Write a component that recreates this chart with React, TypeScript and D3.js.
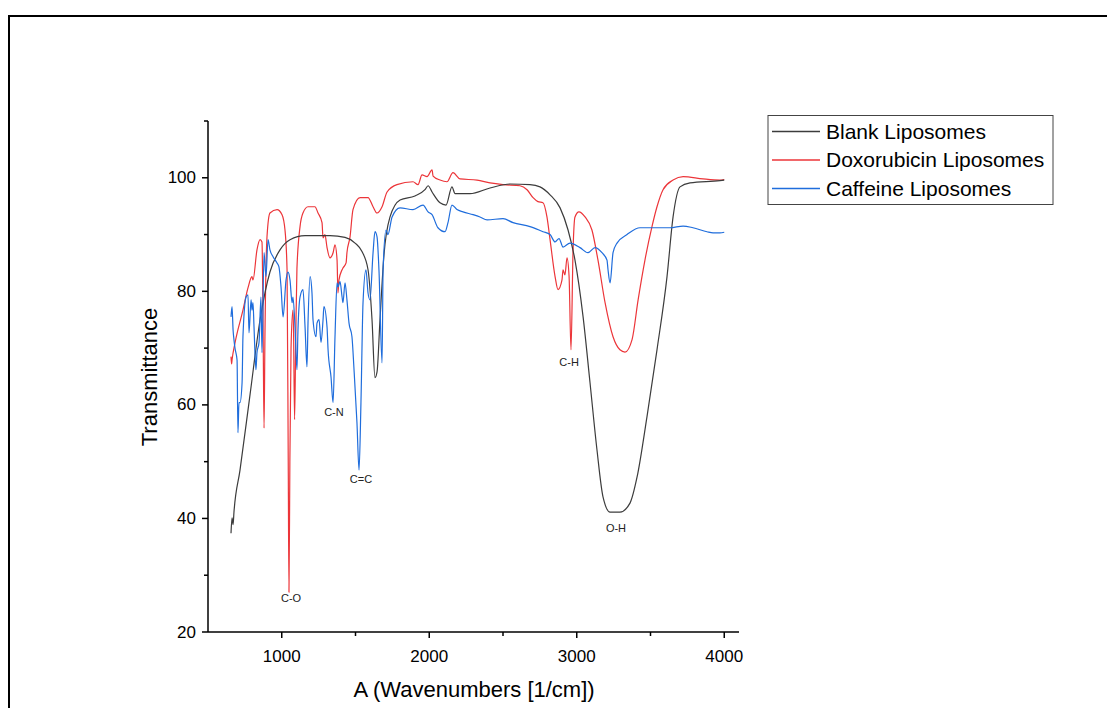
import React from "react";
import * as d3 from "d3";

// ---- data (wavenumber [1/cm], transmittance) ----
const blankWave = [656,663,670,676,717,785,853,920,988,1056,1158,1327,1429,1497,1544,1585,1612,1632,1646,1666,1693,1734,1802,1903,1971,1992,2019,2073,2114,2154,2175,2276,2412,2548,2683,2751,2819,2887,2941,2988,3043,3090,3137,3178,3226,3293,3361,3409,3476,3544,3612,3653,3700,3768,3971,4000];
const blankT = [37.4,40.1,38.9,41.1,48.5,61.8,75.0,83.4,87.3,89.1,89.8,89.8,89.5,88.5,87.0,83.8,75.0,64.8,65.8,75.0,86.4,93.1,96.1,96.8,97.9,98.6,97.5,95.6,95.2,98.4,97.2,97.2,98.2,98.9,98.8,98.4,97.0,94.7,90.8,85.5,75.5,63.9,52.1,43.8,41.1,41.1,42.7,47.3,57.9,69.7,82.6,93.1,98.4,99.1,99.5,99.6];

const doxWave = [656,660,663,683,737,771,798,805,832,853,866,874,880,886,900,920,968,1002,1022,1036,1044,1049,1055,1063,1076,1080,1087,1095,1103,1124,1144,1178,1225,1246,1273,1280,1293,1307,1327,1348,1361,1375,1381,1388,1409,1415,1436,1442,1463,1483,1531,1585,1619,1646,1680,1714,1781,1890,1924,1951,1985,2019,2026,2073,2120,2161,2209,2324,2412,2500,2615,2663,2704,2737,2771,2798,2819,2853,2873,2900,2907,2920,2934,2948,2961,2975,2988,3015,3056,3103,3144,3192,3246,3293,3327,3375,3416,3463,3510,3544,3585,3653,3721,3856,3971,4000];
const doxT = [68.5,67.2,67.9,70.9,76.7,80.6,82.6,82.0,87.3,89.1,88.7,72.0,55.9,72.0,89.6,93.8,94.4,93.5,90.8,83.8,50.0,27.0,50.0,70.0,76.7,73.0,57.4,72.0,84.0,91.4,93.8,94.9,94.9,93.8,92.1,89.4,90.0,87.7,85.9,86.8,88.2,85.5,79.7,82.0,83.8,84.1,85.0,86.8,89.6,94.4,96.5,96.5,94.9,93.8,94.9,97.5,98.8,99.3,98.8,100.5,100.2,101.4,100.3,99.6,99.3,100.9,99.8,99.6,99.1,98.8,98.6,97.9,96.5,95.8,95.6,93.1,89.1,82.6,80.3,82.0,83.8,82.9,85.9,82.6,69.7,87.3,93.1,94.0,93.1,90.8,85.5,78.0,72.0,69.7,69.3,71.5,78.5,85.6,91.4,94.9,97.9,99.6,100.2,99.8,99.6,99.7];

const cafWave = [656,663,670,676,683,697,703,710,717,731,737,758,771,778,792,798,805,812,825,832,846,859,866,880,893,907,920,941,968,981,995,1009,1029,1042,1056,1070,1076,1090,1103,1110,1124,1144,1158,1171,1178,1192,1205,1212,1232,1239,1253,1266,1280,1286,1307,1314,1334,1348,1361,1375,1381,1395,1409,1415,1429,1442,1456,1476,1490,1510,1524,1537,1551,1571,1585,1598,1619,1632,1646,1659,1680,1687,1707,1720,1748,1802,1890,1958,1992,2019,2059,2107,2127,2154,2188,2229,2297,2344,2392,2500,2568,2683,2771,2819,2853,2880,2907,2954,3022,3076,3124,3171,3205,3212,3226,3246,3273,3341,3429,3517,3632,3721,3788,3883,3924,3971,4000];
const cafT = [75.5,77.3,73.2,71.5,70.0,67.9,55.1,60.4,60.4,63.9,72.0,79.0,79.4,72.7,78.5,76.7,78.0,73.7,66.2,69.2,71.0,79.0,69.2,86.8,82.6,89.1,87.3,86.1,85.0,84.3,80.8,75.5,82.0,83.4,82.0,78.0,79.0,73.7,66.2,73.2,79.0,80.3,73.7,66.7,74.4,82.6,79.7,75.0,72.0,74.4,75.0,71.0,75.0,77.3,73.7,69.7,64.9,60.4,72.0,81.5,80.8,81.7,79.0,78.0,81.5,78.5,74.4,72.0,66.2,56.8,48.5,60.4,78.0,83.8,79.7,78.5,86.8,90.5,89.6,83.8,67.4,83.8,90.8,90.0,93.1,94.7,94.4,95.2,94.0,93.5,91.2,90.5,92.1,95.2,94.4,94.0,93.5,93.1,92.6,92.8,92.1,91.4,90.5,90.0,88.7,89.3,87.8,88.5,87.7,86.8,87.7,86.8,85.5,83.8,81.5,86.8,88.5,90.0,91.2,91.2,91.2,91.5,91.2,90.5,90.3,90.3,90.4];

const seriesNames = ["Blank Liposomes", "Doxorubicin Liposomes", "Caffeine Liposomes"];
const seriesColors = ["#3c3c3c", "#ec3539", "#1f6ddc"];

const xMajorTicks = [1000, 2000, 3000, 4000];
const xMinorTicks = [1500, 2500, 3500];
const yMajorTicks = [20, 40, 60, 80, 100];
const yMinorTicks = [30, 50, 70, 90, 110];

const annLabels = ["C-O", "C-N", "C=C", "C-H", "O-H"];
const annWave = [1063, 1354, 1537, 2948, 3266];
const annT = [25.8, 58.6, 46.8, 67.4, 38.1];

const FONT = "'Liberation Sans', Arial, Helvetica, sans-serif";

export default function App() {
  const x = d3.scaleLinear().domain([500, 4100]).range([208, 739]);
  const y = d3.scaleLinear().domain([20, 110]).range([632, 121]);

  const series = [
    blankWave.map((w, i) => [w, blankT[i]] as [number, number]),
    doxWave.map((w, i) => [w, doxT[i]] as [number, number]),
    cafWave.map((w, i) => [w, cafT[i]] as [number, number]),
  ];
  const line = d3
    .line<[number, number]>()
    .x((d) => x(d[0]))
    .y((d) => y(d[1]))
    .curve(d3.curveMonotoneX);

  const [x0, x1] = x.range();
  const [yb, yt] = y.range();

  return (
    <svg
      width={1107}
      height={708}
      style={{ position: "absolute", left: 0, top: 0, background: "#fff" }}
      fontFamily={FONT}
    >
      <rect x={0} y={0} width={1107} height={708} fill="#fff" />
      {/* outer frame */}
      <rect x={9} y={16} width={1120} height={720} fill="none" stroke="#000" strokeWidth={2} />

      {/* series */}
      {[1, 0, 2].map((k) => (
        <path
          key={k}
          d={line(series[k]) || ""}
          fill="none"
          stroke={seriesColors[k]}
          strokeWidth={1.2}
          strokeLinejoin="round"
        />
      ))}

      {/* annotations */}
      {annLabels.map((t, i) => (
        <text
          key={t}
          x={x(annWave[i])}
          y={y(annT[i])}
          fontSize={11}
          textAnchor="middle"
          dominantBaseline="middle"
          fill="#222"
        >
          {t}
        </text>
      ))}

      {/* axes */}
      <line x1={x0} x2={x1} y1={yb} y2={yb} stroke="#000" strokeWidth={1.5} />
      <line x1={x0} x2={x0} y1={yb} y2={yt} stroke="#000" strokeWidth={1.5} />
      {xMajorTicks.map((t) => (
        <g key={"xm" + t}>
          <line x1={x(t)} x2={x(t)} y1={yb} y2={yb + 6} stroke="#000" strokeWidth={1.5} />
          <text x={x(t)} y={yb + 30} fontSize={17} textAnchor="middle" fill="#000">
            {t}
          </text>
        </g>
      ))}
      {xMinorTicks.map((t) => (
        <line key={"xn" + t} x1={x(t)} x2={x(t)} y1={yb} y2={yb + 4} stroke="#000" strokeWidth={1.5} />
      ))}
      {yMajorTicks.map((t) => (
        <g key={"ym" + t}>
          <line x1={x0 - 6} x2={x0} y1={y(t)} y2={y(t)} stroke="#000" strokeWidth={1.5} />
          <text x={x0 - 12} y={y(t)} fontSize={17} textAnchor="end" dominantBaseline="central" fill="#000">
            {t}
          </text>
        </g>
      ))}
      {yMinorTicks.map((t) => (
        <line key={"yn" + t} x1={x0 - 4} x2={x0} y1={y(t)} y2={y(t)} stroke="#000" strokeWidth={1.5} />
      ))}

      {/* axis titles */}
      <text x={474} y={697} fontSize={22} textAnchor="middle" fill="#000">
        A (Wavenumbers [1/cm])
      </text>
      <text
        transform="translate(157,377) rotate(-90)"
        fontSize={22}
        textAnchor="middle"
        fill="#000"
      >
        Transmittance
      </text>

      {/* legend */}
      <rect x={768} y={115.5} width={285} height={89} fill="#fff" stroke="#444" strokeWidth={1} />
      {seriesNames.map((n, i) => (
        <g key={n}>
          <line x1={772} x2={820} y1={131.5 + i * 28.5} y2={131.5 + i * 28.5} stroke={seriesColors[i]} strokeWidth={1.5} />
          <text x={826} y={131 + i * 28.5} fontSize={21} dominantBaseline="central" fill="#000">
            {n}
          </text>
        </g>
      ))}
    </svg>
  );
}
